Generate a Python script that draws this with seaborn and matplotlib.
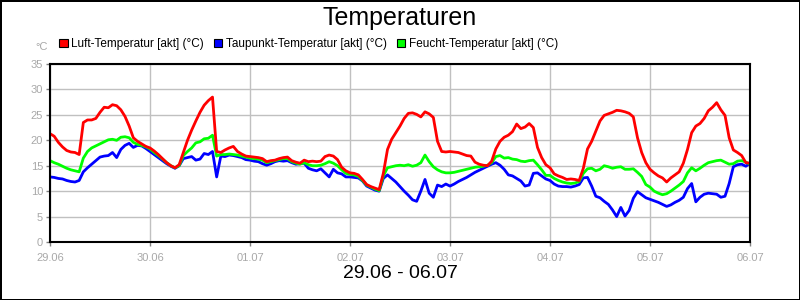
import numpy as np
import pandas as pd
import matplotlib
matplotlib.use("Agg")
import matplotlib.pyplot as plt
import matplotlib.dates as mdates
from matplotlib.patches import Patch
import seaborn as sns

# Stundenwerte 29.06 00:00 bis 06.07 00:00
start = "2024-06-29 00:00"

luft = [
    21.3, 20.8, 19.6, 18.7, 18.0, 17.7, 17.6, 17.2, 23.5, 24.0, 24.0, 24.3,
    25.5, 26.5, 26.4, 27.0, 26.8, 26.0, 24.7, 22.8, 20.5, 19.8, 19.3, 18.8,
    18.5, 17.9, 17.2, 16.4, 15.6, 15.0, 14.6, 15.2, 17.6, 20.0, 22.0, 23.8,
    25.5, 26.9, 27.8, 28.5, 17.8, 17.6, 18.1, 18.5, 18.8, 17.8, 17.3, 16.9,
    16.8, 16.7, 16.6, 16.4, 15.8, 16.0, 16.1, 16.4, 16.6, 16.7, 16.0, 15.7,
    15.5, 16.1, 15.8, 15.9, 15.8, 15.9, 16.8, 17.1, 16.9, 16.2, 14.7, 14.0,
    13.6, 13.5, 13.2, 12.3, 11.3, 10.9, 10.6, 10.3, 13.5, 18.2, 20.2, 21.5,
    22.8, 24.3, 25.3, 25.4, 25.1, 24.6, 25.6, 25.2, 24.5, 19.8, 17.8, 17.7,
    17.8, 17.7, 17.6, 17.3, 17.0, 16.9, 15.7, 15.3, 15.1, 15.0, 15.9, 18.3,
    19.8, 20.6, 21.0, 21.7, 23.2, 22.3, 22.6, 23.3, 22.5, 18.6, 16.6, 15.2,
    14.6, 13.4, 13.0, 12.7, 12.3, 12.4, 12.3, 12.1, 14.5, 18.3, 19.8, 21.8,
    23.8, 24.9, 25.2, 25.5, 25.9, 25.8, 25.6, 25.3, 24.6, 20.5, 17.6, 15.6,
    14.3, 13.6, 13.0, 12.6, 11.8, 12.6, 13.2, 13.8, 15.5, 18.2, 21.5, 22.8,
    23.3, 24.3, 25.8, 26.5, 27.4, 26.0, 24.9, 20.5, 18.1, 17.6, 17.0, 15.6,
    15.5,
]

taupunkt = [
    12.8, 12.7, 12.5, 12.4, 12.1, 11.9, 11.8, 12.1, 13.8, 14.6, 15.3, 16.0,
    16.7, 16.9, 17.0, 17.6, 16.6, 18.2, 19.0, 19.4, 18.6, 19.0, 18.9, 18.4,
    17.8, 17.2, 16.6, 16.0, 15.4, 14.9, 14.5, 15.0, 16.4, 16.6, 16.8, 16.1,
    16.3, 17.4, 17.2, 17.8, 12.8, 16.9, 16.8, 17.1, 17.0, 16.8, 16.6, 16.2,
    16.1, 15.9, 15.8, 15.4, 15.1, 15.4, 15.8, 16.0, 15.9, 16.0, 15.6, 15.3,
    15.4, 15.5, 14.5, 14.2, 14.0, 14.4, 13.6, 12.8, 14.3, 13.6, 13.4, 12.8,
    12.8, 12.7, 12.6, 12.0, 11.0, 10.6, 10.2, 10.0, 12.5, 13.2, 12.5, 11.8,
    10.9, 10.0, 9.2, 8.3, 8.0, 10.0, 12.3, 9.6, 8.8, 11.2, 10.9, 11.4,
    11.0, 11.4, 11.9, 12.3, 12.7, 13.2, 13.7, 14.1, 14.5, 14.9, 15.3, 15.6,
    15.1, 14.3, 13.2, 13.0, 12.5, 12.0, 11.0, 11.2, 13.5, 13.6, 13.0, 12.4,
    12.1, 11.4, 11.0, 10.9, 10.9, 10.8, 11.0, 11.3, 12.6, 12.7, 11.0, 9.0,
    8.7, 8.0, 7.4, 6.3, 5.0, 6.8, 5.1, 6.2, 8.6, 9.9, 9.3, 8.7,
    8.4, 8.1, 7.8, 7.4, 7.0, 7.3, 7.8, 8.2, 8.8, 10.5, 11.5, 7.9,
    8.8, 9.4, 9.6, 9.5, 9.4, 8.8, 9.0, 11.5, 14.8, 15.2, 15.3, 14.9,
    15.5,
]

feucht = [
    16.0, 15.6, 15.3, 14.9, 14.5, 14.2, 14.0, 13.8, 16.5, 17.8, 18.5, 18.9,
    19.3, 19.7, 20.1, 20.2, 20.0, 20.6, 20.7, 20.5, 19.6, 19.2, 19.0, 18.7,
    18.3, 17.6, 17.0, 16.3, 15.6, 15.0, 14.6, 15.0, 17.0, 17.8, 18.5, 19.5,
    19.7, 20.3, 20.4, 21.0, 16.9, 17.2, 17.2, 17.3, 17.2, 17.1, 16.9, 16.7,
    16.5, 16.4, 16.3, 16.1, 15.6, 15.8, 16.0, 16.2, 16.4, 16.4, 15.8, 15.5,
    15.3, 15.6, 15.2, 15.0, 15.0, 15.1, 15.4, 15.8, 15.5, 15.0, 14.2, 13.5,
    13.3, 13.2, 12.9, 12.1, 11.2, 10.8, 10.4, 10.1, 13.0, 14.6, 14.8, 15.0,
    15.1, 15.0, 15.2, 14.9, 15.1, 15.6, 17.1, 15.8, 14.8, 14.2, 13.8, 13.6,
    13.6, 13.7, 13.9, 14.1, 14.3, 14.5, 14.7, 14.8, 14.9, 15.1, 15.6, 16.8,
    17.0, 16.5, 16.6, 16.3, 16.2, 15.9, 15.8, 16.0, 16.1, 15.2, 14.2, 13.1,
    13.1, 12.5, 12.1, 11.8, 11.6, 11.5, 11.6, 11.9, 13.5, 14.4, 14.5, 14.0,
    14.3, 15.0, 14.8, 14.5, 14.7, 14.8, 14.3, 14.3, 14.4, 13.7, 12.9, 11.3,
    10.8, 10.0, 9.6, 9.3, 9.5, 10.0, 10.6, 11.2, 11.9, 13.6, 14.6, 14.0,
    14.5, 15.1, 15.6, 15.8, 16.0, 16.1, 15.7, 15.3, 15.4, 15.9, 16.0, 15.7,
    15.3,
]

namen = ["Luft-Temperatur [akt] (°C)", "Taupunkt-Temperatur [akt] (°C)",
         "Feucht-Temperatur [akt] (°C)"]
farben = ["#ff0000", "#0000ff", "#00ff00"]

zeit = pd.date_range(start, periods=len(luft), freq="h")
df = pd.concat([
    pd.DataFrame({"Zeit": zeit, "Wert": luft, "Reihe": namen[0]}),
    pd.DataFrame({"Zeit": zeit, "Wert": taupunkt, "Reihe": namen[1]}),
    pd.DataFrame({"Zeit": zeit, "Wert": feucht, "Reihe": namen[2]}),
])

sns.set_theme(style="whitegrid")
plt.rcParams["font.family"] = ["Liberation Sans", "DejaVu Sans"]
plt.rcParams["text.color"] = "black"

fig = plt.figure(figsize=(8, 3), dpi=100)
fig.patch.set_facecolor("white")
fig.patch.set_edgecolor("black")
fig.patch.set_linewidth(2)
ax = fig.add_axes([0.0625, 0.1933, 0.875, 0.5933])

# Zeichenreihenfolge: blau, gruen, rot (rot oben)
sns.lineplot(data=df, x="Zeit", y="Wert", hue="Reihe",
             hue_order=[namen[1], namen[2], namen[0]],
             palette={n: c for n, c in zip(namen, farben)},
             linewidth=2.0, legend=False, ax=ax)

ax.set_xlim(zeit[0], zeit[-1])
ax.set_ylim(0, 35)
ax.set_yticks(range(0, 36, 5))
ax.xaxis.set_major_locator(mdates.DayLocator())
ax.xaxis.set_major_formatter(mdates.DateFormatter("%d.%m"))
ax.set_xlabel("")
ax.set_ylabel("")
ax.grid(True, color="#c0c0c0", linewidth=1)
ax.set_facecolor("white")
for s in ax.spines.values():
    s.set_color("black")
    s.set_linewidth(1.5)
ax.tick_params(axis="both", which="major", length=3, width=1, color="#808080",
               labelcolor="#a8a8a8", labelsize=8, bottom=True, left=True)
ax.tick_params(axis="x", pad=5)
ax.tick_params(axis="y", pad=2)
for lbl in ax.get_xticklabels() + ax.get_yticklabels():
    lbl.set_family(["Liberation Sans Narrow", "Liberation Sans"])

fig.text(0.5, 1 - 18 / 300, "Temperaturen", ha="center", va="center",
         fontsize=18, color="black")
fig.text(42 / 800, 1 - 47 / 300, "°C", ha="center", va="center", fontsize=8,
         color="#a8a8a8")
fig.text(0.5, 1 - 273 / 300, "29.06 - 06.07", ha="center", va="center",
         fontsize=14, color="black",
         family=["Liberation Sans Narrow", "Liberation Sans"])

handles = [Patch(facecolor=c, edgecolor="black", linewidth=0.8) for c in farben]
leg = fig.legend(handles, namen, loc="center left",
                 bbox_to_anchor=(59 / 800, 1 - 44 / 300),
                 ncol=3, frameon=False, fontsize=8.5, handlelength=0.72,
                 handleheight=0.72, handletextpad=0.3, columnspacing=0.85,
                 borderaxespad=0, borderpad=0)
for t in leg.get_texts():
    t.set_color("black")

fig.savefig("out.png", dpi=100, facecolor="white", edgecolor="black")
